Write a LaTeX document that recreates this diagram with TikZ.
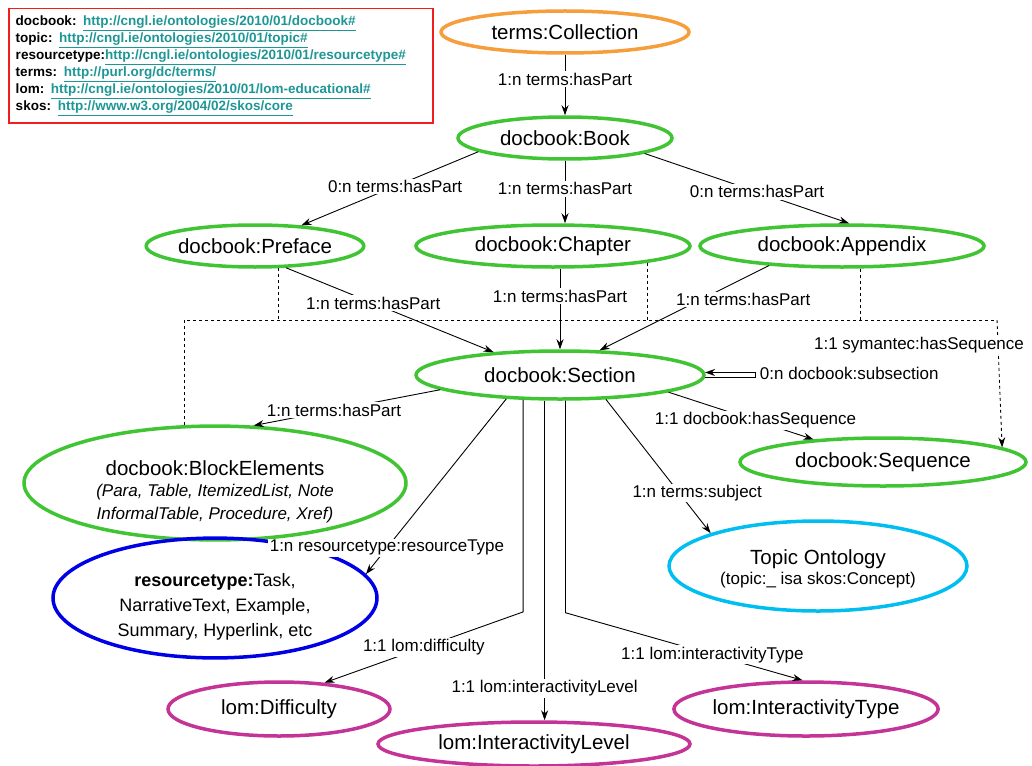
\documentclass[tikz,border=0pt]{standalone}
\usepackage{fontspec}
\setmainfont{Liberation Sans}
\usetikzlibrary{shapes.geometric,arrows.meta}

\definecolor{termsorange}{RGB}{247,158,60}
\definecolor{docgreen}{RGB}{64,196,52}
\definecolor{restypeblue}{RGB}{0,0,230}
\definecolor{topiccyan}{RGB}{0,190,240}
\definecolor{lommagenta}{RGB}{196,52,150}
\definecolor{urlteal}{RGB}{30,150,150}
\definecolor{legendred}{RGB}{240,30,30}

\newcommand{\nodefont}{\fontsize{20.5}{23}\selectfont}
\newcommand{\subfont}{\fontsize{17}{20}\selectfont}
\newcommand{\restfont}{\fontsize{18}{25}\selectfont}
\newcommand{\lblfont}{\fontsize{17}{19}\selectfont}
\newcommand{\legendfont}{\fontsize{13.5}{17}\selectfont\bfseries}
\newcommand{\nsurl}[1]{\textcolor{urlteal}{\underline{#1}}}

\begin{document}
\begin{tikzpicture}[
  x=1pt,y=-1pt,
  >={Stealth[length=10pt,width=7pt]},
  concept/.style={
    draw,
    ellipse,
    line width=3.5pt,
    inner sep=0pt,
    font=\nodefont,
    align=center,
  },
  lbl/.style={fill=white,inner sep=1.5pt,font=\lblfont},
  rel/.style={draw,line width=0.9pt},
]
\useasboundingbox (0,0) rectangle (1032,765);

\node[draw=legendred,line width=1.5pt,anchor=north west,text width=410pt,inner xsep=7pt,inner ysep=5pt,minimum height=114pt,align=left,font=\legendfont] at (8,8) (legend) {docbook: \nsurl{http://cngl.ie/ontologies/2010/01/docbook\#}\\
topic: \nsurl{http://cngl.ie/ontologies/2010/01/topic\#}\\
resourcetype:\nsurl{http://cngl.ie/ontologies/2010/01/resourcetype\#}\\
terms: \nsurl{http://purl.org/dc/terms/}\\
lom: \nsurl{http://cngl.ie/ontologies/2010/01/lom-educational\#}\\
skos: \nsurl{http://www.w3.org/2004/02/skos/core}};

\node[concept,draw=termsorange,minimum width=248pt,minimum height=42pt] at (565,32) (coll) {terms:Collection};
\node[concept,draw=docgreen,minimum width=214pt,minimum height=42pt] at (565,138) (book) {docbook:Book};
\node[concept,draw=docgreen,minimum width=204pt,minimum height=42pt] at (255,246) (preface) {docbook:Preface};
\node[concept,draw=docgreen,minimum width=274pt,minimum height=42pt] at (553,246) (chapter) {docbook:Chapter};
\node[concept,draw=docgreen,minimum width=284pt,minimum height=42pt] at (842,246) (appendix) {docbook:Appendix};
\node[concept,draw=docgreen,minimum width=288pt,minimum height=48pt] at (560,375) (section) {docbook:Section};
\node[concept,draw=docgreen,minimum width=382pt,minimum height=90pt] at (215,483) (block) {\rule{0pt}{33pt}docbook:BlockElements\\[-2pt]
  \subfont\itshape (Para, Table, ItemizedList, Note\\
  \subfont\itshape InformalTable, Procedure, Xref)};
\node[concept,draw=docgreen,minimum width=286pt,minimum height=48pt] at (883,462) (sequence) {docbook:Sequence};
\node[concept,draw=topiccyan,minimum width=298pt,minimum height=90pt] at (818,566) (topic) {\rule{0pt}{20pt}Topic Ontology\\[-3pt]
  \subfont (topic:\_ isa skos:Concept)};
\node[concept,draw=restypeblue,minimum width=324pt,minimum height=98pt,font=\restfont] at (215,598) (restype) {\rule{0pt}{31pt}\textbf{resourcetype:}Task,\\
  NarrativeText, Example,\\
  Summary, Hyperlink, etc};
\node[concept,draw=lommagenta,minimum width=222pt,minimum height=54pt] at (279,709) (diff) {lom:Difficulty};
\node[concept,draw=lommagenta,minimum width=312pt,minimum height=44pt] at (534,744) (ilevel) {lom:InteractivityLevel};
\node[concept,draw=lommagenta,minimum width=264pt,minimum height=54pt] at (806,709) (itype) {lom:InteractivityType};

\coordinate (busR) at (997,320);

\path[rel,->] (coll) -- node[lbl,pos=0.4] {1:n terms:hasPart} (book);
\path[rel,->] (book.189) -- node[lbl,pos=0.47] {0:n terms:hasPart} (preface.24);
\path[rel,->] (book.south) -- node[lbl,pos=0.45] {1:n terms:hasPart} (book.south |- chapter.north);
\path[rel,->] (book.-11.8) -- node[lbl,pos=0.55] {0:n terms:hasPart} (appendix.73);

\path[rel,->] (preface.-35) -- node[lbl,pos=0.42] {1:n terms:hasPart} (section.161.6);
\path[rel,->] (section.north |- chapter.south) -- node[lbl,pos=0.34] {1:n terms:hasPart} (section.north);
\path[rel,->] (appendix.195.5) -- node[lbl,pos=0.4,xshift=42pt] {1:n terms:hasPart} (section.32);

% dashed links to the shared parts
\path[rel,dashed] (preface.-43) -- (preface.-43 |- busR);
\path[rel,dashed] (chapter.-10.5) -- (chapter.-10.5 |- busR);
\path[rel,dashed] (appendix.-50.5) -- (appendix.-50.5 |- busR);
\path[rel,dashed] (block.118.7) |- (busR);
\path[rel,dashed,->] (busR) -- node[lbl,pos=0.2,xshift=-79pt] {1:1 symantec:hasSequence} (sequence.7.25);

\path[rel,->] (section.-1.8) -- ++(50,0) node[lbl,anchor=west,xshift=3pt,yshift=4.5pt] {0:n docbook:subsection} |- (section.1.8);
\path[rel,->] (section.-9.5) -- node[lbl,pos=0.6] {1:1 docbook:hasSequence} (sequence.162.8);
\path[rel,->] (section.187) -- node[lbl,pos=0.57] {1:n terms:hasPart} (block.56.9);
\path[rel,->] (section.204.7) -- node[lbl,pos=0.85] {1:n resourcetype:resourceType} (restype.9.9);
\path[rel,->] (section.-28.1) -- node[lbl,pos=0.7,xshift=18pt] {1:n terms:subject} (topic.163.5);

% lom properties
\path[rel,->] (section.-146.1) -- ++(0,212) -- node[lbl,pos=0.5] {1:1 lom:difficulty} (diff.30.3);
\path[rel,->] (section.-121.1) -- node[lbl,pos=0.9] {1:1 lom:interactivityLevel} (section.-121.1 |- ilevel.north);
\path[rel,->] (section.-78.7) -- ++(0,212) -- node[lbl,pos=0.62] {1:1 lom:interactivityType} (itype.97);
\end{tikzpicture}
\end{document}
